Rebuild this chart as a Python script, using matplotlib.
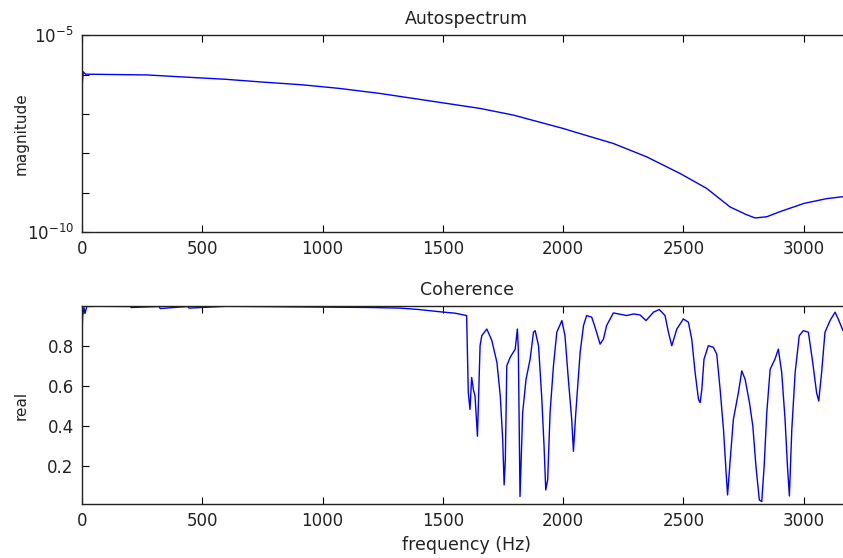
import matplotlib
matplotlib.use('Agg')
import matplotlib.pyplot as plt
from matplotlib.ticker import FixedLocator, FixedFormatter, NullLocator
import numpy as np

# autospectrum (log10 of magnitude)
spec_freq = [0, 5, 14, 270, 416, 596, 748, 915, 1067, 1239, 1502, 1655, 1794,
             2001, 2071, 2209, 2348, 2486, 2597, 2694, 2760, 2798, 2847, 2902,
             3002, 3096, 3164]
spec_log = [-6.30, -5.93, -5.99, -6.01, -6.06, -6.12, -6.19, -6.26, -6.35, -6.48,
            -6.72, -6.86, -7.03, -7.37, -7.50, -7.75, -8.09, -8.51, -8.89, -9.36,
            -9.55, -9.64, -9.61, -9.48, -9.27, -9.15, -9.10]

# coherence
coh_freq = [0, 3, 8, 12, 20, 60, 200, 205, 320, 325, 440, 445, 600, 900, 1200,
            1322, 1400, 1502, 1550, 1599,
            1606, 1613, 1620, 1627, 1634, 1644, 1655, 1662, 1683, 1704, 1725, 1739,
            1749, 1755, 1760, 1766, 1780, 1801, 1810, 1814, 1821, 1832, 1846, 1863,
            1877, 1884, 1898, 1911, 1921, 1928, 1936, 1946, 1960, 1974, 1995, 2008,
            2022, 2036, 2043, 2053, 2071, 2085, 2098, 2119, 2133, 2154, 2168, 2181,
            2209, 2265, 2293, 2320, 2345, 2376, 2400, 2424, 2438, 2452, 2473, 2500,
            2521, 2535, 2549, 2563, 2570, 2577, 2586, 2604, 2625, 2639, 2653, 2667,
            2678, 2684, 2695, 2708, 2729, 2743, 2757, 2775, 2789, 2802, 2816, 2826,
            2836, 2847, 2861, 2881, 2895, 2909, 2923, 2933, 2941, 2951, 2965, 2982,
            2999, 3020, 3038, 3054, 3063, 3075, 3089, 3110, 3131, 3144, 3164]
coh_val = [0.88, 0.95, 0.99, 0.96, 0.995, 0.996, 0.995, 0.99, 0.995, 0.985, 0.995, 0.987,
           0.996, 0.993, 0.99, 0.987, 0.98, 0.967, 0.962, 0.95,
           0.567, 0.483, 0.642, 0.583, 0.550, 0.350, 0.800, 0.850, 0.883, 0.825, 0.717, 0.550,
           0.333, 0.108, 0.233, 0.700, 0.742, 0.783, 0.883, 0.783, 0.050, 0.467, 0.633, 0.733,
           0.867, 0.875, 0.800, 0.550, 0.300, 0.083, 0.133, 0.467, 0.700, 0.867, 0.925, 0.850,
           0.633, 0.433, 0.275, 0.467, 0.767, 0.900, 0.950, 0.942, 0.892, 0.808, 0.833, 0.900,
           0.963, 0.950, 0.958, 0.953, 0.925, 0.967, 0.980, 0.950, 0.867, 0.800, 0.883, 0.933,
           0.917, 0.833, 0.667, 0.533, 0.517, 0.583, 0.733, 0.800, 0.792, 0.758, 0.583, 0.383,
           0.167, 0.058, 0.233, 0.433, 0.567, 0.675, 0.633, 0.517, 0.400, 0.200, 0.033, 0.025,
           0.200, 0.467, 0.683, 0.733, 0.783, 0.667, 0.433, 0.200, 0.053, 0.383, 0.667, 0.850,
           0.875, 0.867, 0.717, 0.567, 0.525, 0.667, 0.867, 0.925, 0.967, 0.933, 0.875]

spec_ticks = [1e-10, 1e-9, 1e-8, 1e-7, 1e-6, 1e-5]
spec_ticklabels = ['$\\mathregular{10^{-10}}$', '', '', '', '', '$\\mathregular{10^{-5}}$']
freq_ticks = [0, 500, 1000, 1500, 2000, 2500, 3000]
coh_ticks = [0.2, 0.4, 0.6, 0.8]
coh_ticklabels = ['0.2', '0.4', '0.6', '0.8']

plt.rcParams['font.family'] = ['DejaVu Sans']
plt.rcParams['mathtext.fontset'] = 'dejavusans'
txt_color = '#222222'

fig = plt.figure(figsize=(8.43, 5.58), dpi=100)
ax1 = fig.add_axes([0.0973, 0.584, 0.913, 0.353])
ax2 = fig.add_axes([0.0973, 0.0968, 0.913, 0.355])

# autospectrum
ax1.plot(spec_freq, 10 ** np.array(spec_log), color='#0000ff', linewidth=1)
ax1.set_yscale('log')
ax1.set_ylim(1e-10, 1e-5)
ax1.set_xlim(0, 3200)
ax1.yaxis.set_major_locator(FixedLocator(spec_ticks))
ax1.yaxis.set_major_formatter(FixedFormatter(spec_ticklabels))
ax1.yaxis.set_minor_locator(NullLocator())
ax1.set_ylabel('magnitude', fontsize=11, color=txt_color)
ax1.set_title('Autospectrum', fontsize=12.5, pad=8, color=txt_color)

# coherence
ax2.plot(coh_freq, coh_val, color='#0000ff', linewidth=1)
ax2.set_xlim(0, 3200)
ax2.set_ylim(0.013, 0.998)
ax2.set_yticks(coh_ticks)
ax2.set_yticklabels(coh_ticklabels)
ax2.set_ylabel('real', fontsize=11, color=txt_color)
ax2.set_xlabel('frequency (Hz)', fontsize=12.5, labelpad=4, color=txt_color)
ax2.set_title('Coherence', fontsize=12.5, pad=8, color=txt_color)

for ax in (ax1, ax2):
    ax.set_xticks(freq_ticks)
    ax.tick_params(direction='in', length=5, width=0.8, top=True, right=False,
                   labelsize=12, pad=6, labelcolor=txt_color)
    ax.tick_params(which='minor', length=0)
    ax.yaxis.set_label_coords(-0.070, 0.5)
    ax.spines['right'].set_visible(False)
    for s in ('left', 'bottom', 'top'):
        ax.spines[s].set_linewidth(1)
        ax.spines[s].set_color(txt_color)

fig.savefig('out.png', dpi=100)
